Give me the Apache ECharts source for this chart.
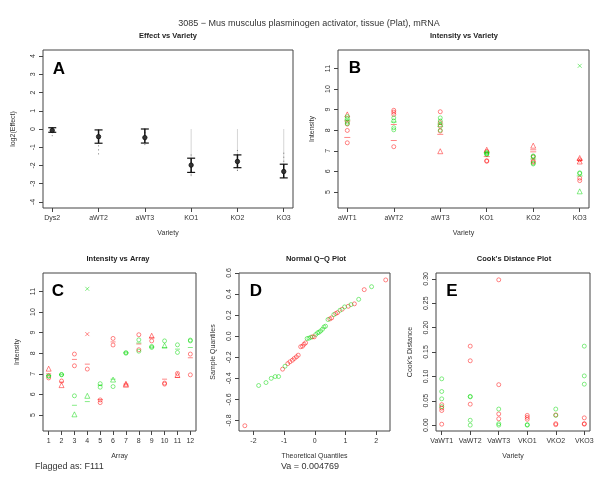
<!DOCTYPE html>
<html><head><meta charset="utf-8">
<script src="https://cdn.jsdelivr.net/npm/echarts@6/dist/echarts.min.js"></script>
<style>html,body{margin:0;padding:0;background:#fff}#c{width:600px;height:480px}</style>
</head><body><div id="c"></div>
<script>
// ---------- texts ----------
const mainTitle = '3085 \u2212 Mus musculus plasminogen activator, tissue (Plat), mRNA';
const flagText = 'Flagged as: F111';
const vaText = 'Va = 0.004769';
const panelTitles = ['Effect vs Variety','Intensity vs Variety','Intensity vs Array','Normal Q\u2212Q Plot',"Cook's Distance Plot"];
const panelLetters = ['A','B','C','D','E'];

// ---------- Panel A: Effect vs Variety ----------
const effCats = ['Dys2','aWT2','aWT3','KO1','KO2','KO3'];
const effMean = [-0.08,-0.42,-0.47,-1.98,-1.78,-2.33];
const effLow = [-0.18,-0.78,-0.77,-2.38,-2.12,-2.68];
const effHigh = [0.07,-0.05,0.0,-1.6,-1.42,-1.93];
const effSpreadLow = [-0.45,-1.42,-1.05,-2.6,-2.3,-2.7];
const effSpreadHigh = [0.1,-0.02,0.05,-1.4,-1.15,-1.3];
const effRefTop = [null,null,null,0,0,0];
const effTicks = [-4,-3,-2,-1,0,1,2,3,4];

// ---------- Panel B: Intensity vs Variety ----------
const varCats = ['aWT1','aWT2','aWT3','KO1','KO2','KO3'];
const intTicks = [5,6,7,8,9,10,11];
const bRedCircle = [[7.99,7.39,8.3],[8.97,8.88,8.77,7.2],[8.9,8.37,8.2,7.96],[6.97,6.52,6.49],[6.7,6.5,6.45],[6.56,5.67,5.55]];
const bRedTriangle = [[8.77],[],[6.98],[7.05],[7.25],[6.65,6.48]];
const bGreenCircle = [[8.66,8.56,8.4,8.32],[8.6,8.45,8.12,8.02],[8.6,8.45,8.0],[6.92,6.88,6.85,6.82],[6.75,6.72,6.4,6.36],[5.93,5.9]];
const bGreenTriangle = [[],[],[8.3],[],[],[5.03]];
const bGreenCross = [[],[],[],[],[],[11.13]];
const bRedDash = [[8.45,7.65],[8.28,7.5],[7.8],[6.72],[7.05,6.95],[6.55]];
const bGreenDash = [[8.5],[8.4],[8.3],[6.9],[6.6],[5.78]];

// ---------- Panel C: Intensity vs Array ----------
const arrayTicks = [1,2,3,4,5,6,7,8,9,10,11,12];
const cRed = [[7.25,6.8],[6.65,6.45],[7.96,7.39],[8.93,7.23],[5.73,5.6],[8.72,8.40],[6.52,6.47],[8.9,8.17],[8.85,8.6],[6.55,6.5],[7.02,6.95],[7.96,6.95]];
const cGreen = [[6.9,6.88],[6.97,6.95],[5.93,5.03],[11.13,5.93],[6.52,6.35],[6.72,6.38],[8.03,8.0],[8.65,8.1],[8.33,8.28],[8.6,8.37],[8.41,8.04],[8.64,8.6]];
const cRedShape = [['t','o'],['o','t'],['o','o'],['x','o'],['o','o'],['o','o'],['t','t'],['o','o'],['t','o'],['o','o'],['o','t'],['o','o']];
const cGreenShape = [['o','o'],['o','o'],['o','t'],['x','t'],['o','o'],['t','o'],['o','o'],['o','o'],['o','o'],['o','t'],['o','o'],['o','o']];
const cRedDash = [7.0,6.6,7.7,7.47,5.75,8.55,6.5,8.45,8.77,6.74,6.82,7.78];
const cGreenDash = [6.92,6.96,5.47,5.65,6.45,6.74,8.02,8.5,8.3,8.28,8.2,8.28];

// ---------- Panel D: Normal Q-Q ----------
const qqTicksX = [-2,-1,0,1,2];
const qqTicksY = [-0.8,-0.6,-0.4,-0.2,0,0.2,0.4,0.6];
const qqRed = [[-2.28,-0.85],[-1.05,-0.313],[-0.88,-0.26],[-0.81,-0.243],[-0.73,-0.228],[-0.67,-0.212],[-0.60,-0.196],[-0.54,-0.18],[-0.46,-0.10],[-0.40,-0.095],[-0.35,-0.076],[-0.30,-0.063],[-0.08,-0.006],[-0.02,-0.006],[0.49,0.164],[0.55,0.174],[0.68,0.215],[0.74,0.224],[0.89,0.256],[1.09,0.284],[1.29,0.307],[1.61,0.442],[2.31,0.534]];
const qqGreen = [[-1.83,-0.468],[-1.59,-0.44],[-1.42,-0.40],[-1.29,-0.383],[-1.18,-0.383],[-0.97,-0.285],[-0.25,-0.022],[-0.19,-0.019],[-0.13,-0.01],[0.03,0.016],[0.09,0.032],[0.14,0.038],[0.19,0.05],[0.25,0.066],[0.30,0.088],[0.35,0.095],[0.43,0.158],[0.62,0.205],[0.82,0.246],[0.97,0.278],[1.18,0.30],[1.43,0.35],[1.85,0.47]];

// ---------- Panel E: Cook's Distance ----------
const cookCats = ['VaWT1','VaWT2','VaWT3','VKO1','VKO2','VKO3'];
const cookTicks = [0,0.05,0.10,0.15,0.20,0.25,0.30];
const cookRed = [[0.042,0.035,0.03,0.002],[0.162,0.132,0.043],[0.298,0.083,0.023,0.013],[0.02,0.016,0.012],[0.021,0.003,0.001],[0.015,0.003,0.002]];
const cookGreen = [[0.095,0.069,0.054,0.038],[0.059,0.058,0.01,0.0],[0.033,0.003,0.0],[0.0,0.001],[0.033,0.02],[0.162,0.101,0.084]];

// ---------- styling ----------
const FONT = 'Liberation Sans, Arial, Helvetica, sans-serif';
const RED = 'rgba(255,0,0,0.6)';
const GREEN = 'rgba(0,215,0,0.6)';
const AX = '#444';
const CROSS = 'path://M0,0L10,10M10,0L0,10';

function catPts(lists){const o=[];lists.forEach((l,i)=>l.forEach(v=>o.push([i+1,v])));return o;}
function shapePts(vals, shapes, s){const o=[];vals.forEach((l,i)=>l.forEach((v,j)=>{if(shapes[i][j]===s)o.push([i+1,v]);}));return o;}
function sc(gi,data,symbol,color,size){return {type:'scatter',xAxisIndex:gi,yAxisIndex:gi,data,symbol,symbolSize:size,silent:true,z:3,
  itemStyle:{color:'transparent',borderColor:color,borderWidth:1}};}
function dash(gi,data,color,w){return {type:'scatter',xAxisIndex:gi,yAxisIndex:gi,data,symbol:'rect',symbolSize:[w,1],silent:true,z:3,
  itemStyle:{color:color,borderWidth:0}};}

function xAx(gi,min,max,ticks,fmt,name){return {type:'value',gridIndex:gi,min,max,
  axisLine:{show:false,onZero:false},splitLine:{show:false},
  axisTick:{show:true,customValues:ticks,length:4,lineStyle:{color:AX,width:1}},
  axisLabel:{customValues:ticks,formatter:fmt,fontSize:7,color:'#333',margin:7,fontFamily:FONT},
  name,nameLocation:'middle',nameGap:22,nameTextStyle:{fontSize:7,color:'#333',fontFamily:FONT}};}
function yAx(gi,min,max,ticks,fmt,name,gap){return {type:'value',gridIndex:gi,min,max,
  axisLine:{show:false,onZero:false},splitLine:{show:false},
  axisTick:{show:true,customValues:ticks,length:4,lineStyle:{color:AX,width:1}},
  axisLabel:{customValues:ticks,formatter:fmt,fontSize:7,color:'#333',margin:6,rotate:90,fontFamily:FONT},
  name,nameLocation:'middle',nameGap:gap,nameRotate:90,nameTextStyle:{fontSize:7,color:'#333',fontFamily:FONT}};}

const gridBase = {show:true,borderColor:AX,borderWidth:1,backgroundColor:'transparent',containLabel:false};
const grids = [
  Object.assign({left:43,top:50,width:250,height:158},gridBase),
  Object.assign({left:338,top:50,width:251,height:158},gridBase),
  Object.assign({left:43,top:273,width:153,height:158},gridBase),
  Object.assign({left:239,top:273,width:151,height:158},gridBase),
  Object.assign({left:436,top:273,width:154,height:158},gridBase)
];

const xAxes = [
  xAx(0,0.8,6.2,[1,2,3,4,5,6],v=>effCats[Math.round(v)-1]||'','Variety'),
  xAx(1,0.8,6.2,[1,2,3,4,5,6],v=>varCats[Math.round(v)-1]||'','Variety'),
  xAx(2,0.56,12.44,arrayTicks,v=>String(v),'Array'),
  xAx(3,-2.47,2.45,qqTicksX,v=>String(v),'Theoretical Quantiles'),
  xAx(4,0.8,6.2,[1,2,3,4,5,6],v=>cookCats[Math.round(v)-1]||'','Variety')
];
const yAxes = [
  yAx(0,-4.33,4.33,effTicks,v=>String(v),'log2(Effect)',26),
  yAx(1,4.22,11.9,intTicks,v=>String(v),'Intensity',22),
  yAx(2,4.22,11.9,intTicks,v=>String(v),'Intensity',22),
  yAx(3,-0.9,0.6,qqTicksY,v=>v.toFixed(1),'Sample Quantiles',22),
  yAx(4,-0.012,0.312,cookTicks,v=>v.toFixed(2),"Cook's Distance",22)
];

const effData = effCats.map((c,i)=>[i+1,effMean[i],effLow[i],effHigh[i],effSpreadLow[i],effSpreadHigh[i]]);
const effSeries = {type:'custom',xAxisIndex:0,yAxisIndex:0,silent:true,data:effData,
  encode:{x:0,y:[1,2,3,4,5]},
  renderItem:function(params,api){
    const x=api.value(0), m=api.value(1), lo=api.value(2), hi=api.value(3), sl=api.value(4), sh=api.value(5);
    const P=v=>api.coord([x,v]);
    const ch=[];
    const ref=effRefTop[params.dataIndex];
    if(ref!==null){const a=P(ref),b=P(sl);ch.push({type:'line',shape:{x1:a[0],y1:a[1],x2:b[0],y2:b[1]},style:{stroke:'#d6d6d6',lineWidth:1}});}
    const s1=P(sh),s2=P(sl);
    ch.push({type:'line',shape:{x1:s1[0],y1:s1[1],x2:s2[0],y2:s2[1]},style:{stroke:'#777',lineWidth:1,lineDash:[1,3]}});
    const h=P(hi),l=P(lo),mm=P(m);
    ch.push({type:'line',shape:{x1:h[0],y1:h[1],x2:l[0],y2:l[1]},style:{stroke:'#111',lineWidth:1.5}});
    ch.push({type:'line',shape:{x1:h[0]-4,y1:h[1],x2:h[0]+4,y2:h[1]},style:{stroke:'#111',lineWidth:1.2}});
    ch.push({type:'line',shape:{x1:l[0]-4,y1:l[1],x2:l[0]+4,y2:l[1]},style:{stroke:'#111',lineWidth:1.2}});
    ch.push({type:'circle',shape:{cx:mm[0],cy:mm[1],r:2.2},style:{fill:'#333',stroke:'#111',lineWidth:0.8}});
    return {type:'group',children:ch};
  }};

const series = [effSeries,
  sc(1,catPts(bRedCircle),'circle',RED,4),
  sc(1,catPts(bRedTriangle),'triangle',RED,5),
  sc(1,catPts(bGreenCircle),'circle',GREEN,4),
  sc(1,catPts(bGreenTriangle),'triangle',GREEN,5),
  sc(1,catPts(bGreenCross),CROSS,GREEN,4),
  dash(1,catPts(bRedDash),RED,6),
  dash(1,catPts(bGreenDash),GREEN,6),
  sc(2,shapePts(cRed,cRedShape,'o'),'circle',RED,4),
  sc(2,shapePts(cRed,cRedShape,'t'),'triangle',RED,5),
  sc(2,shapePts(cRed,cRedShape,'x'),CROSS,RED,4),
  sc(2,shapePts(cGreen,cGreenShape,'o'),'circle',GREEN,4),
  sc(2,shapePts(cGreen,cGreenShape,'t'),'triangle',GREEN,5),
  sc(2,shapePts(cGreen,cGreenShape,'x'),CROSS,GREEN,4),
  dash(2,cRedDash.map((v,i)=>[i+1,v]),RED,5),
  dash(2,cGreenDash.map((v,i)=>[i+1,v]),GREEN,5),
  sc(3,qqRed,'circle',RED,4),
  sc(3,qqGreen,'circle',GREEN,4),
  sc(4,catPts(cookRed),'circle',RED,4),
  sc(4,catPts(cookGreen),'circle',GREEN,4)
];

function txt(x,y,t,size,weight,color,align){return {type:'text',x,y,silent:true,
  style:{text:t,fontSize:size,fontWeight:weight||'normal',fill:color||'#333',fontFamily:FONT,textAlign:align||'center',textVerticalAlign:'middle'}};}
const titlePos = [[168,36],[464,36],[118,259],[316,259],[514,259]];
const letterPos = [[59,69],[355,68],[58,291],[256,291],[452,291]];
const graphics = [txt(309,24,mainTitle,9,'normal','#333')];
panelTitles.forEach((t,i)=>graphics.push(txt(titlePos[i][0],titlePos[i][1],t,7.5,'bold','#222')));
panelLetters.forEach((t,i)=>graphics.push(txt(letterPos[i][0],letterPos[i][1],t,17,'bold','#000')));
graphics.push(txt(35,467,flagText,9,'normal','#333','left'));
graphics.push(txt(310,467,vaText,9,'normal','#333'));

const chart = echarts.init(document.getElementById('c'),null,{renderer:'canvas'});
chart.setOption({animation:false,backgroundColor:'#fff',grid:grids,xAxis:xAxes,yAxis:yAxes,series,graphic:graphics});
</script></body></html>
